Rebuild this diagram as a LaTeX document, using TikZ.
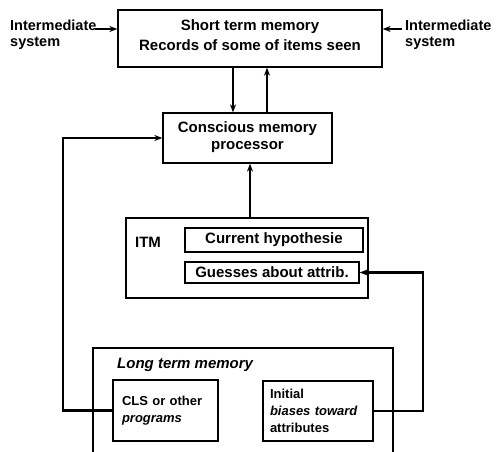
\documentclass[tikz,border=0pt]{standalone}
\usepackage{fontspec}
\setmainfont{Liberation Sans}
\usetikzlibrary{arrows.meta}

\begin{document}
\begin{tikzpicture}[x=1pt,y=-1pt,
        box/.style={draw,line width=1.3pt,inner sep=0pt},
        txt/.style={font=\fontsize{15}{17}\selectfont\bfseries},
        small/.style={font=\fontsize{13}{17}\selectfont\bfseries},
        arr/.style={line width=2.6pt,-{Stealth[length=8pt,width=6pt]}},
        link/.style={line width=2.6pt}]
        \path[use as bounding box,clip] (0,0) rectangle (499,452);
        \node[box,txt,minimum width=264pt,minimum height=57pt,align=center,text depth=7pt] (stm) at (250,38.5) {Short term memory\\[3pt]Records of some of items seen};
        \node[font=\fontsize{14.5}{16}\selectfont\bfseries,inner sep=0pt,align=left,anchor=north west] (lsys) at (10,20) {Intermediate\\system};
        \node[font=\fontsize{14.5}{16}\selectfont\bfseries,inner sep=0pt,align=left,anchor=north west] (rsys) at (405,20) {Intermediate\\system};
        \node[box,txt,minimum width=169pt,minimum height=50pt,align=center,text depth=4pt] (cmp) at (247.5,138) {Conscious memory\\processor};
        \node[box,minimum width=242pt,minimum height=80pt] (itm) at (247,258) {};
        \node[txt] (itml) at (148,242) {ITM};
        \node[box,txt,minimum width=178pt,minimum height=24pt] (cur) at (274,240) {Current hypothesie};
        \node[box,txt,minimum width=174pt,minimum height=21pt] (gue) at (272,272.5) {Guesses about attrib.};
        \node[box,minimum width=300pt,minimum height=122pt] (ltm) at (243,409) {};
        \node[txt,anchor=west,inner sep=0pt] (ltml) at (117,365) {\itshape Long term memory};
        \node[box,small,minimum width=105pt,minimum height=61pt,align=left,text width=87pt] (cls) at (165.5,410.5) {CLS or other\\{\itshape programs}};
        \node[box,small,minimum width=110pt,minimum height=60pt,align=left,text width=96pt] (ini) at (318,411) {Initial\\{\itshape biases toward}\\attributes};
        \coordinate (la) at (95,29);
        \coordinate (ra) at (402,29);
        \coordinate (lb) at (63,0);
        \coordinate (rb) at (423,0);
        \draw[arr] (la) -- (la -| stm.west);
        \draw[arr] (ra) -- (ra -| stm.east);
        \draw[arr] ([xshift=-17pt]stm.south) -- ([xshift=-17pt]stm.south |- cmp.north);
        \draw[arr] ([xshift=17pt]stm.south |- cmp.north) -- ([xshift=17pt]stm.south);
        \draw[arr] ([xshift=3pt]itm.north) -- ([xshift=3pt]itm.north |- cmp.south);
        \draw[arr] (cls.west) -- (cls.west -| lb) |- (cmp.west);
        \draw[arr] (ini.east) -- (ini.east -| rb) |- (gue.east);
\end{tikzpicture}
\end{document}
